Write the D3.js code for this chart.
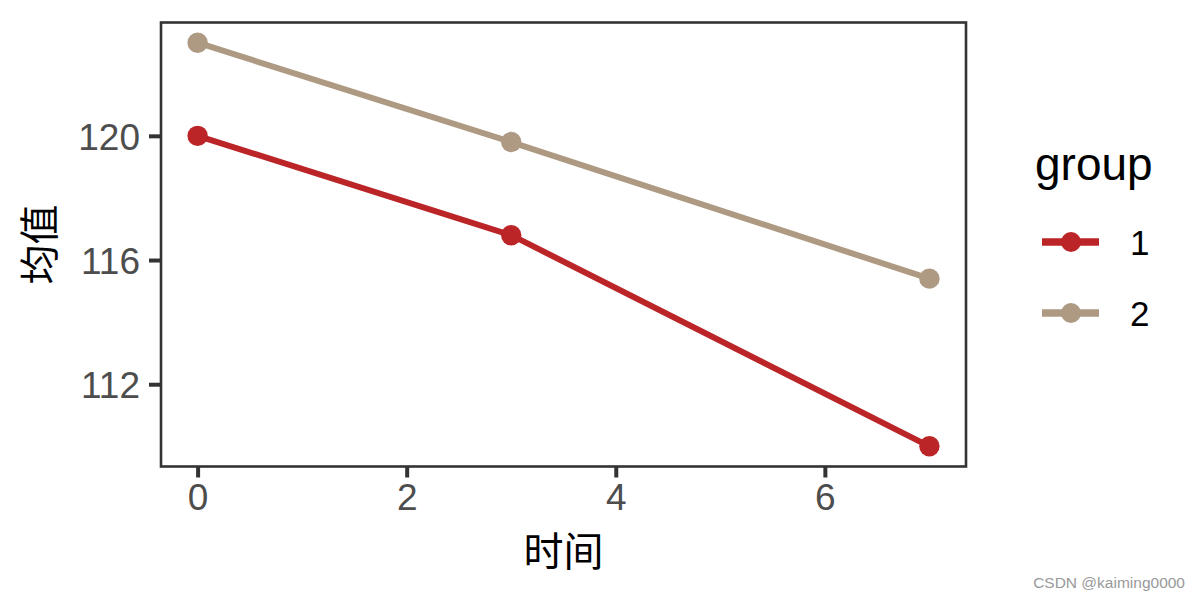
<!DOCTYPE html>
<html>
<head>
<meta charset="utf-8">
<script src="https://cdn.jsdelivr.net/npm/d3@7"></script>
<style>
  html, body { margin: 0; padding: 0; background: #fff; }
  svg { display: block; }
</style>
</head>
<body>
<div id="chart"></div>
<script>
// ---- data ----
const times = [0, 3, 7];
const group1 = [120.0, 116.8, 110.0];
const group2 = [123.0, 119.8, 115.4];
const groupNames = ["1", "2"];
const groupColors = ["#BB2528", "#AE9A82"];
const xTicks = [0, 2, 4, 6];
const yTicks = [112, 116, 120];
const xTitle = "时间";
const yTitle = "均值";
const legendTitle = "group";
const watermark = "CSDN @kaiming0000";

const W = 1200, H = 600;
const svg = d3.select("#chart").append("svg").attr("width", W).attr("height", H);

const allY = group1.concat(group2);
const yMin = d3.min(allY), yMax = d3.max(allY);
const yPad = (yMax - yMin) * 0.05;
const xPad = (d3.max(times) - d3.min(times)) * 0.05;

const x = d3.scaleLinear().domain([d3.min(times) - xPad, d3.max(times) + xPad]).range([161, 966]);
const y = d3.scaleLinear().domain([yMin - yPad, yMax + yPad]).range([466.5, 22.5]);

const tickColor = "#333333";
const labelColor = "#4D4D4D";

// axes
const xAxis = d3.axisBottom(x).tickValues(xTicks).tickSize(11).tickPadding(6).tickFormat(d3.format("d"));
const yAxis = d3.axisLeft(y).tickValues(yTicks).tickSize(12).tickPadding(9).tickFormat(d3.format("d"));

const gx = svg.append("g").attr("transform", `translate(0,${y.range()[0]})`).call(xAxis);
const gy = svg.append("g").attr("transform", `translate(${x.range()[0]},0)`).call(yAxis);
[gx, gy].forEach(g => {
  g.select(".domain").remove();
  g.selectAll(".tick line").attr("stroke", tickColor).attr("stroke-width", 4);
  g.selectAll(".tick text").attr("fill", labelColor)
    .style("font-family", "Arial, 'Liberation Sans', sans-serif").style("font-size", "37px");
});
gx.selectAll(".tick text").attr("dy", "0.71em");
gy.selectAll(".tick text").attr("dy", "0.36em");

// panel border
svg.append("rect")
  .attr("x", x.range()[0]).attr("y", y.range()[1])
  .attr("width", x.range()[1] - x.range()[0])
  .attr("height", y.range()[0] - y.range()[1])
  .attr("fill", "none").attr("stroke", tickColor).attr("stroke-width", 2.6);

// series
const series = [group1, group2].map((vals, i) => ({
  name: groupNames[i], color: groupColors[i],
  pts: times.map((t, j) => ({ t, v: vals[j] }))
}));
const line = d3.line().x(d => x(d.t)).y(d => y(d.v));
const plot = svg.append("g");
// draw group 2 first, then group 1
series.slice().reverse().forEach(s => {
  plot.append("path").datum(s.pts).attr("d", line)
    .attr("fill", "none").attr("stroke", s.color).attr("stroke-width", 6);
  plot.selectAll(null).data(s.pts).enter().append("circle")
    .attr("cx", d => x(d.t)).attr("cy", d => y(d.v)).attr("r", 10.2)
    .attr("fill", s.color);
});

// axis titles
svg.append("text").attr("x", (x.range()[0] + x.range()[1]) / 2).attr("y", 566)
  .attr("text-anchor", "middle").attr("fill", "#000")
  .style("font-family", "'Noto Sans CJK SC', sans-serif").style("font-size", "40px")
  .text(xTitle);
svg.append("text").attr("transform", `translate(54,${(y.range()[0] + y.range()[1]) / 2}) rotate(-90)`)
  .attr("text-anchor", "middle").attr("fill", "#000")
  .style("font-family", "'Noto Sans CJK SC', sans-serif").style("font-size", "40px")
  .text(yTitle);

// legend
const lg = svg.append("g");
lg.append("text").attr("x", 1035).attr("y", 180).attr("fill", "#000")
  .style("font-family", "Arial, 'Liberation Sans', sans-serif").style("font-size", "46px")
  .text(legendTitle);
const keyY = [242, 313];
series.forEach((s, i) => {
  lg.append("line").attr("x1", 1042).attr("x2", 1099).attr("y1", keyY[i]).attr("y2", keyY[i])
    .attr("stroke", s.color).attr("stroke-width", 7.5);
  lg.append("circle").attr("cx", 1071).attr("cy", keyY[i]).attr("r", 10).attr("fill", s.color);
  lg.append("text").attr("x", 1130).attr("y", keyY[i]).attr("dy", "0.36em").attr("fill", "#000")
    .style("font-family", "Arial, 'Liberation Sans', sans-serif").style("font-size", "35px")
    .text(s.name);
});

// watermark
svg.append("text").attr("x", 1185).attr("y", 588).attr("text-anchor", "end").attr("fill", "#999")
  .style("font-family", "Arial, 'Liberation Sans', sans-serif").style("font-size", "15.5px")
  .text(watermark);
</script>
</body>
</html>
